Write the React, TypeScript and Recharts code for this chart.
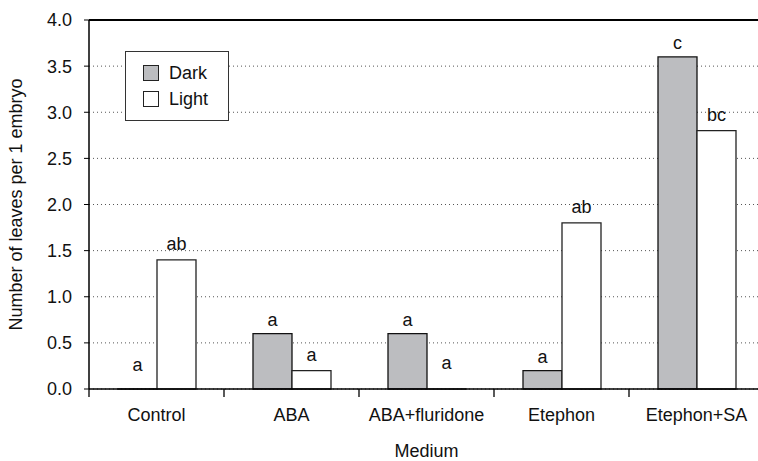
import { BarChart, Bar, XAxis, YAxis, CartesianGrid, ReferenceLine, LabelList } from "recharts";

const categories = ["Control", "ABA", "ABA+fluridone", "Etephon", "Etephon+SA"];
const darkValues = [0, 0.6, 0.6, 0.2, 3.6];
const lightValues = [1.4, 0.2, 0, 1.8, 2.8];
const darkLetters = ["a", "a", "a", "a", "c"];
const lightLetters = ["ab", "a", "a", "ab", "bc"];
const yTicks = [0, 0.5, 1, 1.5, 2, 2.5, 3, 3.5, 4];

const data = categories.map((name, i) => ({
  name,
  dark: darkValues[i],
  light: lightValues[i],
  darkLetter: darkLetters[i],
  lightLetter: lightLetters[i],
}));

const FONT = "'Liberation Sans', Arial, sans-serif";
const FS = 18;
const CHART_W = 775;
const MARGIN = { top: 20, right: 11, bottom: 0, left: 0 };
const Y_W = 89;
const BAND = (CHART_W - MARGIN.right - Y_W) / categories.length;

const CategoryTick = (props: any) => {
  const { x, y, payload } = props;
  return (
    <g>
      <line x1={x - BAND / 2} y1={y - 8} x2={x - BAND / 2} y2={y} stroke="#000" strokeWidth={1.3} />
      <text x={x} y={y + 24} textAnchor="middle" fontSize={FS} fontFamily={FONT} fill="#111">
        {payload.value}
      </text>
    </g>
  );
};

const makeLetter = (gap: number) => (props: any) => {
  const { x, y, width, value, height } = props;
  const extra = Math.abs(height || 0) < 1 ? 10 : 0;
  return (
    <text x={x + width / 2} y={y - gap - extra} textAnchor="middle" fontSize={FS} fontFamily={FONT} fill="#111">
      {value}
    </text>
  );
};

const XTitle = (props: any) => {
  const { viewBox } = props;
  return (
    <text
      x={viewBox.x + viewBox.width / 2}
      y={viewBox.y + viewBox.height - 4}
      textAnchor="middle"
      fontSize={FS}
      fontFamily={FONT}
      fill="#111"
    >
      Medium
    </text>
  );
};

const LegendBox = () => (
  <div
    style={{
      position: "absolute",
      left: 125,
      top: 51,
      width: 104,
      height: 70,
      border: "1px solid #333",
      background: "#fff",
      boxSizing: "border-box",
      padding: "8px 0 0 17px",
      fontFamily: FONT,
      fontSize: FS,
      color: "#111",
    }}
  >
    {[
      { label: "Dark", fill: "#bcbdc0" },
      { label: "Light", fill: "#fff" },
    ].map((it) => (
      <div key={it.label} style={{ display: "flex", alignItems: "center", height: 26 }}>
        <span
          style={{
            display: "inline-block",
            width: 16,
            height: 16,
            background: it.fill,
            border: "1px solid #222",
            boxSizing: "border-box",
            marginRight: 10,
          }}
        />
        {it.label}
      </div>
    ))}
  </div>
);

export default function App() {
  return (
    <div style={{ position: "absolute", left: 0, top: 0, width: 758, height: 461, overflow: "hidden", background: "#fff" }}>
      <BarChart width={CHART_W} height={461} data={data} margin={MARGIN} barGap={0} barSize={39}>
        <CartesianGrid vertical={false} stroke="#555" strokeDasharray="1 3" />
        <XAxis
          dataKey="name"
          tick={<CategoryTick />}
          tickLine={false}
          axisLine={{ stroke: "#000", strokeWidth: 1.5 }}
          height={72}
          interval={0}
          label={<XTitle />}
        />
        <YAxis
          domain={[0, 4]}
          ticks={yTicks}
          width={Y_W}
          tickFormatter={(v: number) => v.toFixed(1)}
          tick={{ fontSize: FS, fontFamily: FONT, fill: "#111" }}
          tickSize={5}
          tickMargin={12}
          tickLine={{ stroke: "#000" }}
          axisLine={{ stroke: "#000", strokeWidth: 1.5 }}
          label={{
            value: "Number of leaves per 1 embryo",
            angle: -90,
            position: "insideLeft",
            offset: 16,
            style: { textAnchor: "middle" },
            fontSize: FS,
            fontFamily: FONT,
            fill: "#111",
          }}
        />
        <ReferenceLine y={4} stroke="#000" strokeWidth={2} />
        <Bar dataKey="dark" name="Dark" fill="#bcbdc0" stroke="#111" strokeWidth={1.3} minPointSize={0.01} isAnimationActive={false}>
          <LabelList dataKey="darkLetter" content={makeLetter(8)} />
        </Bar>
        <Bar dataKey="light" name="Light" fill="#fff" stroke="#222" strokeWidth={1.3} minPointSize={0.01} isAnimationActive={false}>
          <LabelList dataKey="lightLetter" content={makeLetter(10)} />
        </Bar>
      </BarChart>
      <LegendBox />
    </div>
  );
}
